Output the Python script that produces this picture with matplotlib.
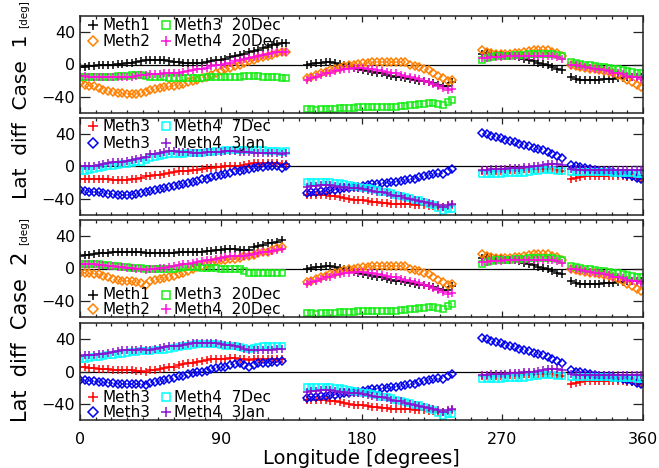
import numpy as np
import matplotlib.pyplot as plt
from matplotlib.ticker import MultipleLocator

# --- longitude grids of the four orbit pieces [deg] ---
LON_A1 = np.arange(0, 133, 3)     # case 1, first piece
LON_A2 = np.arange(0, 130, 3)     # case 2, first piece
LON_B = np.arange(145, 239, 3)
LON_C = np.arange(257, 309, 3)
LON_D = np.arange(314, 360, 3)

# --- case 1 / case 2, first piece (20Dec set) ---
C1_METH1_A = [-3, -3, -2, -2, -1, -1, 0, 0, 1, 1, 2, 2, 3, 4, 5, 6, 6, 5, 5, 4,
              3, 3, 2, 2, 2, 2, 2, 3, 4, 5, 6, 7, 9, 10, 12, 13, 15, 17, 18, 20,
              22, 24, 25, 26, 27]
C1_METH2_A = [-23, -25, -26, -27, -29, -31, -33, -34, -35, -35, -36, -36, -36, -35, -34,
              -32, -30, -29, -28, -27, -26, -25, -24, -22, -21, -19, -17, -15, -13, -10,
              -8, -6, -4, -2, 0, 2, 4, 6, 8, 9, 11, 12, 14, 15, 15]
C1_METH3_A = [-15, -15, -15, -15, -15, -15, -15, -15, -14, -14, -14, -13, -13, -13, -14,
              -15, -15, -16, -16, -17, -17, -17, -17, -17, -17, -17, -17, -16, -16, -16,
              -16, -16, -15, -15, -15, -14, -14, -14, -14, -15, -15, -16, -16, -17, -17]
C1_METH4_A = [-14, -14, -15, -15, -16, -16, -16, -16, -16, -16, -15, -15, -14, -13, -13,
              -12, -12, -12, -11, -11, -10, -10, -9, -8, -7, -6, -5, -4, -2, -1,
              0, 1, 2, 4, 5, 7, 8, 9, 11, 12, 13, 14, 15, 16, 15]

C2_METH1_A = [16, 17, 17, 18, 19, 19, 19, 20, 20, 21, 21, 21, 21, 20, 19, 19, 19, 19, 19, 19,
              19, 20, 20, 20, 21, 21, 21, 22, 22, 23, 23, 24, 24, 24, 23, 23, 23, 26, 28, 29,
              31, 32, 33, 35]
C2_METH2_A = [-5, -5, -6, -7, -7, -9, -11, -13, -14, -15, -16, -16, -17, -18, -20, -16, -14,
              -13, -12, -11, -9, -7, -5, -3, 0, 2, 3, 5, 7, 9, 10, 11, 12, 12, 13, 15, 16,
              17, 19, 20, 21, 23, 25, 26]
C2_METH3_A = [6, 6, 5, 5, 5, 4, 4, 3, 3, 2, 2, 1, 1, 1, 0, 0, -1, -1, -1, -1,
              0, 1, 2, 2, 2, 2, 1, 1, 1, 1, 0, 0, 0, 0, -1, -3, -5, -6, -5, -5,
              -5, -5, -5, -5]
C2_METH4_A = [6, 6, 5, 5, 4, 4, 3, 3, 2, 2, 1, 1, 0, 0, -2, -1, 0, 1, 1, 2,
              3, 4, 5, 6, 7, 8, 9, 10, 11, 12, 13, 14, 15, 15, 16, 16, 17, 18, 19, 20,
              21, 22, 23, 24]

# --- same for both cases, remaining pieces (20Dec set) ---
METH1_B = [0, 1, 2, 2, 3, 3, 2, 1, 0, -2, -4, -5, -7, -8, -9, -10, -11, -13, -14, -15,
           -16, -17, -18, -19, -20, -21, -22, -23, -25, -27, -26, -22]
METH2_B = [-17, -15, -13, -11, -9, -7, -6, -4, -2, -1, 0, 1, 2, 2, 3, 3, 3, 3, 3, 3,
           3, 3, 0, -2, -3, -5, -7, -10, -14, -17, -20, -19]
METH3_B = [-55, -55, -56, -55, -55, -55, -55, -54, -54, -54, -54, -53, -53, -53, -53, -52,
           -52, -52, -52, -52, -51, -51, -50, -50, -49, -49, -48, -48, -49, -50, -46, -44]
METH4_B = [-19, -17, -15, -13, -11, -10, -8, -7, -6, -5, -4, -4, -4, -5, -6, -7, -8, -9,
           -10, -11, -13, -14, -15, -17, -18, -20, -22, -24, -27, -29, -31, -30]
METH1_C = [13, 14, 13, 12, 12, 11, 11, 10, 9, 7, 5, 4, 2, 1, -1, -3, -5, -7]
METH2_C = [18, 16, 14, 13, 13, 13, 13, 14, 14, 15, 17, 18, 18, 18, 18, 16, 14, 11]
METH3_C = [6, 8, 9, 10, 10, 11, 11, 12, 12, 12, 13, 13, 13, 13, 13, 13, 12, 10]
METH4_C = [8, 8, 9, 9, 9, 10, 10, 10, 10, 11, 11, 11, 11, 11, 11, 10, 9, 7]
METH1_D = [-16, -18, -19, -19, -19, -19, -19, -18, -18, -18, -17, -17, -16, -15, -15, -15]
METH2_D = [-1, -2, -3, -4, -5, -6, -7, -8, -9, -11, -13, -16, -19, -22, -25, -28]
METH3_D = [3, 2, 1, 0, -1, -2, -3, -3, -4, -5, -6, -7, -8, -9, -10, -11]
METH4_D = [0, -1, -2, -3, -4, -5, -6, -7, -8, -10, -11, -12, -14, -15, -16, -18]

# --- other dates, first piece ---
C1_M3_PLUS_A = [-15, -15, -15, -16, -16, -16, -16, -17, -17, -17, -17, -16, -15, -14, -12,
                -12, -11, -10, -9, -8, -7, -6, -6, -5, -4, -4, -3, -2, -2, -1,
                -1, 0, 0, 1, 1, 2, 3, 4, 4, 4, 4, 4, 4, 3, 3]
C1_M3_DIAM_A = [-29, -30, -31, -32, -32, -33, -34, -34, -35, -35, -35, -35, -34, -33, -31,
                -30, -29, -28, -26, -25, -24, -23, -22, -21, -19, -18, -16, -15, -13, -12,
                -10, -9, -8, -6, -5, -4, -3, -2, -1, -1, 0, 0, 0, -2, 1]
C1_M4_7DEC_A = [-6, -5, -4, -3, -2, -1, 0, 1, 2, 3, 3, 4, 5, 6, 8, 10, 12, 13, 14, 15,
                15, 16, 16, 17, 17, 17, 17, 18, 18, 19, 19, 20, 20, 20, 20, 20, 20, 20, 20, 20,
                19, 19, 19, 18, 19]
C1_M4_3JAN_A = [0, 0, 1, 1, 2, 3, 4, 5, 5, 6, 7, 8, 9, 11, 12, 15, 16, 17, 18, 19,
                19, 18, 18, 18, 17, 17, 17, 18, 18, 18, 18, 19, 19, 19, 18, 18, 18, 17, 17, 17,
                17, 17, 17, 16, 17]

C2_M3_PLUS_A = [5, 5, 4, 4, 3, 3, 3, 2, 2, 2, 2, 2, 1, 1, 0, 2, 2, 3, 4, 5,
                6, 8, 9, 10, 11, 12, 13, 14, 15, 15, 16, 16, 17, 17, 16, 15, 14, 15, 15, 16,
                16, 15, 15, 15]
C2_M3_DIAM_A = [-10, -11, -12, -12, -13, -13, -14, -14, -15, -15, -15, -16, -16, -16, -17,
                -14, -13, -12, -11, -9, -8, -6, -5, -3, -2, -1, 0, 1, 3, 4,
                5, 6, 8, 9, 10, 8, 5, 8, 10, 10, 11, 12, 12, 13]
C2_M4_7DEC_A = [15, 16, 17, 18, 18, 19, 20, 21, 22, 22, 23, 24, 24, 25, 25, 25, 26, 27, 27, 28,
                29, 30, 31, 32, 33, 34, 34, 34, 34, 34, 33, 32, 31, 31, 30, 29, 28, 29, 30, 31,
                31, 31, 31, 31]
C2_M4_3JAN_A = [19, 20, 20, 21, 22, 22, 23, 24, 25, 26, 26, 27, 27, 28, 26, 27, 28, 29, 30, 31,
                31, 32, 33, 34, 35, 35, 35, 35, 35, 35, 34, 33, 33, 32, 30, 28, 27, 27, 27, 27,
                27, 27, 28, 28]

# --- other dates, remaining pieces (same for both cases) ---
M3_PLUS_B = [-35, -35, -35, -35, -35, -36, -37, -38, -39, -40, -41, -42, -42, -43, -44, -44,
             -45, -45, -46, -46, -47, -47, -47, -48, -48, -48, -49, -49, -50, -50, -49, -48]
M3_DIAM_B = [-33, -32, -31, -30, -30, -29, -29, -28, -27, -26, -25, -25, -24, -23, -22, -22,
             -21, -20, -19, -19, -18, -17, -16, -15, -13, -12, -11, -9, -8, -9, -6, -3]
M4_7DEC_B = [-19, -19, -19, -19, -19, -19, -20, -21, -22, -23, -24, -25, -26, -27, -28, -29,
             -31, -32, -33, -35, -36, -38, -39, -41, -42, -44, -46, -48, -51, -55, -52, -52]
M4_3JAN_B = [-25, -24, -24, -23, -23, -23, -24, -25, -25, -26, -27, -27, -28, -29, -30, -31,
             -32, -33, -35, -36, -37, -39, -40, -41, -43, -44, -45, -47, -48, -50, -48, -46]
M3_PLUS_C = [-5, -5, -5, -5, -5, -4, -4, -4, -4, -3, -3, -3, -3, -3, -3, -3, -4, -6]
M3_DIAM_C = [42, 40, 38, 36, 35, 33, 32, 30, 28, 27, 25, 23, 22, 20, 18, 16, 13, 10]
M4_7DEC_C = [-9, -9, -9, -9, -9, -8, -8, -8, -8, -8, -7, -6, -5, -4, -4, -4, -5, -6]
M4_3JAN_C = [-4, -4, -3, -3, -3, -3, -2, -2, -2, -1, -1, 0, 1, 2, 3, 3, 3, 2]
M3_PLUS_D = [-15, -14, -13, -12, -12, -12, -12, -12, -12, -12, -12, -12, -13, -13, -14, -15]
M3_DIAM_D = [2, 0, -1, -2, -3, -4, -5, -5, -6, -7, -8, -9, -10, -12, -14, -16]
M4_7DEC_D = [-7, -7, -7, -7, -7, -7, -7, -7, -7, -8, -8, -8, -8, -8, -9, -9]
M4_3JAN_D = [-3, -4, -4, -4, -4, -4, -4, -4, -4, -4, -4, -4, -4, -4, -4, -4]

LABELS_TOP = ['Meth1', 'Meth2', 'Meth3  20Dec', 'Meth4  20Dec']
LABELS_BOT = ['Meth3', 'Meth3', 'Meth4  7Dec', 'Meth4  3Jan']

# marker styles (IDL-ish colours); data markers small, key markers a bit bigger
ST_METH1 = dict(marker='+', color='black', ms=5.5, mew=1.1)
ST_METH2 = dict(marker='D', color='#ff8000', mfc='none', ms=4.2, mew=1.1)
ST_METH3 = dict(marker='s', color='#18ec18', mfc='none', ms=4.6, mew=1.1)
ST_METH4 = dict(marker='+', color='#ff10d8', ms=5.5, mew=1.1)
ST_M3_PLUS = dict(marker='+', color='#ff0000', ms=5.5, mew=1.1)
ST_M3_DIAM = dict(marker='D', color='#0000f0', mfc='none', ms=4.2, mew=1.1)
ST_M4_7DEC = dict(marker='s', color='#00ffff', mfc='none', ms=4.6, mew=1.1)
ST_M4_3JAN = dict(marker='+', color='#8a10d0', ms=5.5, mew=1.1)

plt.rcParams['font.family'] = 'DejaVu Sans'

fig = plt.figure(figsize=(6.59, 4.68), dpi=100)
L, W, H = 80 / 659, 563 / 659, 97 / 468
tops = [16, 118, 220, 323]
axes = [fig.add_axes([L, 1 - (t + 97) / 468, W, H]) for t in tops]


def draw_series(ax, lon_a, vals_a, rest, style):
    lons = [lon_a, LON_B, LON_C, LON_D]
    vals = [vals_a] + list(rest)
    for lo, va in zip(lons, vals):
        ax.plot(lo, va, ls='none', **style)


def key(ax, rows, labels, styles):
    xm = [0.023, 0.153]
    xt = [0.040, 0.167]
    for i, (lab, st) in enumerate(zip(labels, styles)):
        c, r = i // 2, i % 2
        kst = dict(st, ms=st['ms'] * 1.2)
        ax.plot([xm[c]], [rows[r]], ls='none', transform=ax.transAxes,
                clip_on=False, **kst)
        ax.text(xt[c], rows[r], lab, transform=ax.transAxes, fontsize=11,
                va='center', ha='left')


top_styles = [ST_METH1, ST_METH2, ST_METH3, ST_METH4]
bot_styles = [ST_M3_PLUS, ST_M3_DIAM, ST_M4_7DEC, ST_M4_3JAN]

rest_top = [(METH1_B, METH1_C, METH1_D), (METH2_B, METH2_C, METH2_D),
            (METH3_B, METH3_C, METH3_D), (METH4_B, METH4_C, METH4_D)]
rest_bot = [(M3_PLUS_B, M3_PLUS_C, M3_PLUS_D), (M3_DIAM_B, M3_DIAM_C, M3_DIAM_D),
            (M4_7DEC_B, M4_7DEC_C, M4_7DEC_D), (M4_3JAN_B, M4_3JAN_C, M4_3JAN_D)]

panels = [
    (LON_A1, [C1_METH1_A, C1_METH2_A, C1_METH3_A, C1_METH4_A], rest_top, top_styles, LABELS_TOP, (0.907, 0.742)),
    (LON_A1, [C1_M3_PLUS_A, C1_M3_DIAM_A, C1_M4_7DEC_A, C1_M4_3JAN_A], rest_bot, bot_styles, LABELS_BOT, (0.915, 0.742)),
    (LON_A2, [C2_METH1_A, C2_METH2_A, C2_METH3_A, C2_METH4_A], rest_top, top_styles, LABELS_TOP, (0.227, 0.082)),
    (LON_A2, [C2_M3_PLUS_A, C2_M3_DIAM_A, C2_M4_7DEC_A, C2_M4_3JAN_A], rest_bot, bot_styles, LABELS_BOT, (0.237, 0.082)),
]

for k, (ax, (lon_a, firsts, rests, styles, labels, rows)) in enumerate(zip(axes, panels)):
    ax.axhline(0, color='black', lw=0.9, zorder=1)
    for va, rest, st in zip(firsts, rests, styles):
        draw_series(ax, lon_a, va, rest, st)
    key(ax, rows, labels, styles)

    ax.set_xlim(0, 360)
    ax.set_ylim(-60, 60)
    ax.set_yticks([-40, 0, 40])
    ax.set_yticklabels(['\u221240', '0', '40'])
    ax.xaxis.set_major_locator(MultipleLocator(90))
    ax.xaxis.set_minor_locator(MultipleLocator(10))
    ax.tick_params(axis='both', which='both', direction='in', top=True, right=True,
                   width=0.9, color='#222222', labelsize=11.5)
    ax.tick_params(axis='y', which='major', length=7)
    ax.tick_params(axis='x', which='major', length=4, pad=9)
    ax.tick_params(axis='x', which='minor', length=2.2)
    for sp in ax.spines.values():
        sp.set_linewidth(1.1)
        sp.set_color('#222222')
    if k < 3:
        ax.tick_params(axis='x', labelbottom=False)

axes[3].set_xlabel('Longitude [degrees]', fontsize=14, labelpad=1)

# side titles: "Lat diff Case N" followed by a smaller "[deg]"
renderer = fig.canvas.get_renderer()
for case, y_start, fs in [(1, 0.575, 14.5), (2, 0.098, 15)]:
    main = fig.text(0.041, y_start, f'Lat  diff  Case  {case} ', rotation=90,
                    rotation_mode='anchor', ha='left', va='baseline', fontsize=fs)
    ext = main.get_window_extent(renderer)
    fig.text(0.041, ext.y1 / fig.bbox.height, '[deg]', rotation=90,
             rotation_mode='anchor', ha='left', va='baseline', fontsize=7.5)

fig.savefig('out.png', dpi=100)
